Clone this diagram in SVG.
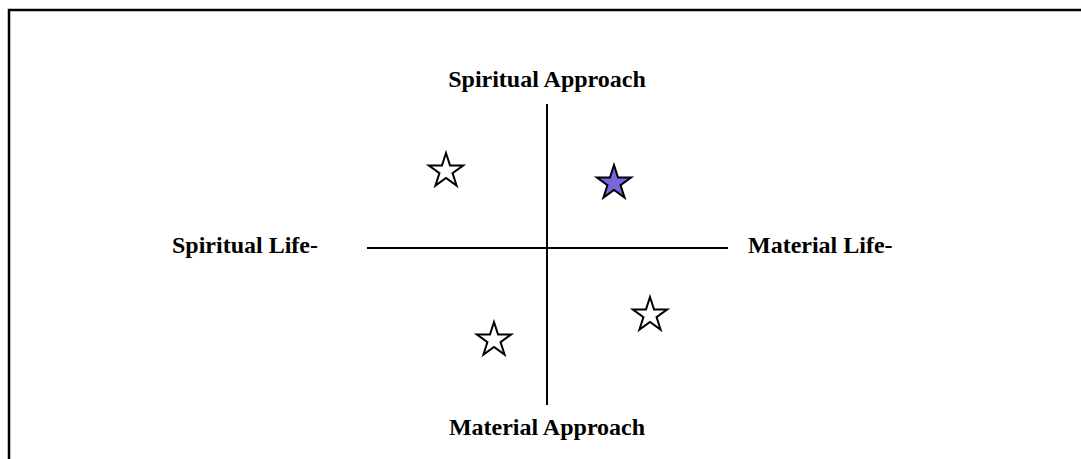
<svg xmlns="http://www.w3.org/2000/svg" width="1081" height="459" viewBox="0 0 1081 459">
<defs>
<style>
.lbl{font-family:"Liberation Serif","Times New Roman",serif;font-weight:bold;font-size:24px;fill:#000}
.axis{stroke:#000;stroke-width:2;fill:none}
.star{stroke:#000;stroke-width:2;stroke-linejoin:miter}
</style>
<polygon id="starShape" points="0,-18 4.04,-5.56 17.12,-5.56 6.54,2.12 10.58,14.56 0,6.87 -10.58,14.56 -6.54,2.12 -17.12,-5.56 -4.04,-5.56"/>
</defs>
<rect x="0" y="0" width="1081" height="459" fill="#fff"/>
<path d="M9 459 V10 H1081" stroke="#000" stroke-width="2.5" fill="none"/>
<g id="connectors">
<line class="axis" x1="547" y1="104" x2="547" y2="405"/>
<line class="axis" x1="367" y1="248" x2="728" y2="248"/>
</g>
<g id="label-top"><text class="lbl" x="547" y="87" text-anchor="middle">Spiritual Approach</text></g>
<g id="label-bottom"><text class="lbl" x="547" y="435" text-anchor="middle">Material Approach</text></g>
<g id="label-left"><text class="lbl" x="172" y="253">Spiritual Life-</text></g>
<g id="label-right"><text class="lbl" x="748" y="253">Material Life-</text></g>
<g id="star1"><use href="#starShape" class="star" fill="#fff" transform="translate(446,171)"/></g>
<g id="star2"><use href="#starShape" class="star" fill="#7766dd" transform="translate(614,183)"/></g>
<g id="star3"><use href="#starShape" class="star" fill="#fff" transform="translate(494,340)"/></g>
<g id="star4"><use href="#starShape" class="star" fill="#fff" transform="translate(650,315)"/></g>
</svg>
